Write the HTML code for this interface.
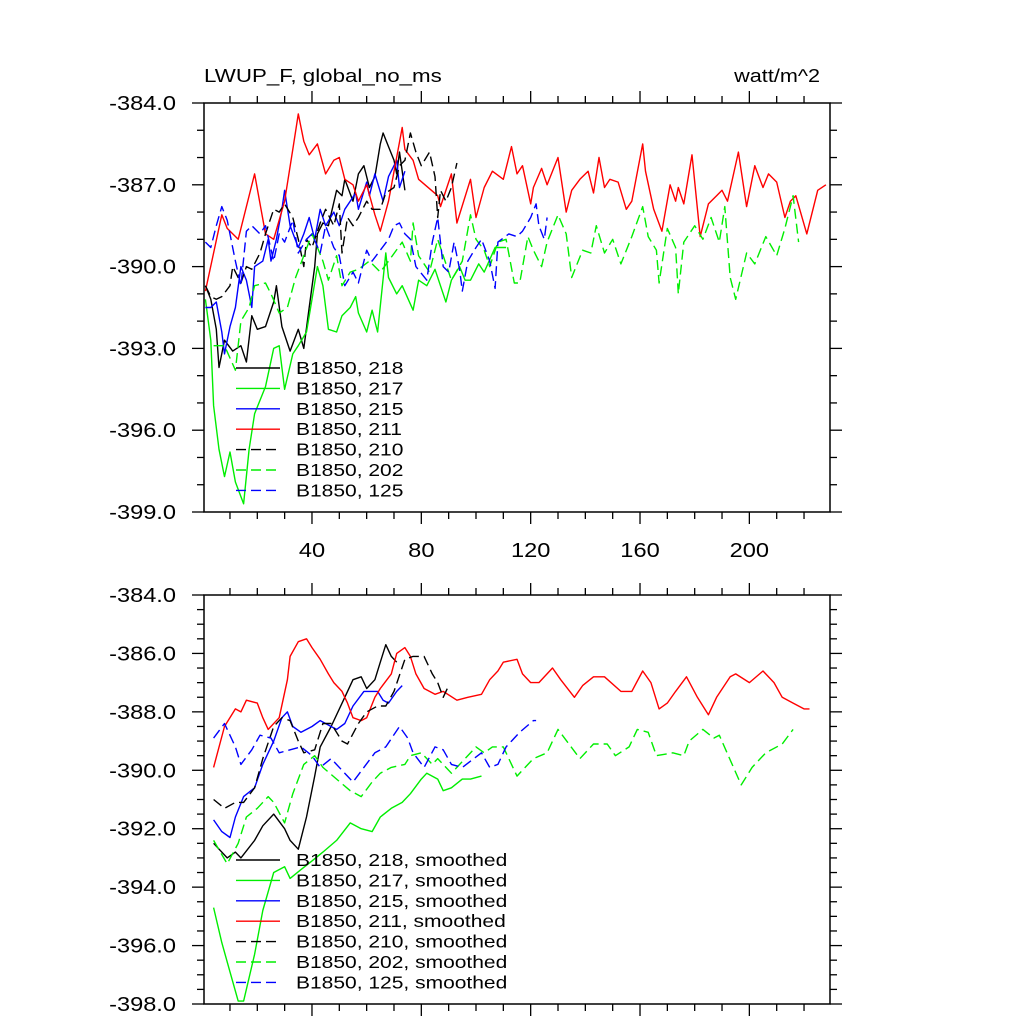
<!DOCTYPE html>
<html><head><meta charset="utf-8"><style>
html,body{margin:0;padding:0;background:#fff}
svg{display:block}
text{font-family:"Liberation Sans",sans-serif;fill:#000}
</style></head><body>
<svg id="chart" width="1024" height="1024" viewBox="0 0 1024 1024" xmlns="http://www.w3.org/2000/svg">
<text id="ttl" x="204" y="82" font-size="18">LWUP_F, global_no_ms</text>
<text id="unt" x="820" y="82" font-size="18" text-anchor="end">watt/m^2</text>
<g id="top"></g>
<g id="bot"></g>
</svg>
<script>
// ---------- data: top panel (raw) ----------
const t218x=[1,3,5,6,8,11,14,16,18,20,23,26,27,29,32,35,37,39,41,42,44,46,49,51,52,55,57,59,61,63,65,66,68,70,71,72,74];
const t218y=[-390.7,-391.2,-392.3,-393.7,-392.7,-393.1,-392.9,-393.5,-391.8,-392.3,-392.2,-391.3,-390.7,-392.2,-393.1,-392.3,-393.0,-391.5,-390.0,-388.8,-388.4,-388.5,-387.2,-387.4,-386.8,-387.6,-386.6,-386.3,-387.1,-386.7,-385.5,-385.1,-385.6,-386.1,-386.6,-385.8,-387.2];
const t217x=[1,3,4,6,8,10,12,15,17,19,23,26,28,30,33,35,38,40,42,44,46,49,51,54,56,57,60,62,64,67,68,71,73,77,79,82,85,89,91,94,96,98,101,103,107,111];
const t217y=[-391.2,-392.7,-395.1,-396.7,-397.7,-396.8,-397.9,-398.7,-396.7,-395.4,-394.4,-393.0,-392.9,-394.5,-393.2,-392.9,-392.4,-391.2,-390.0,-390.7,-392.3,-392.4,-391.8,-391.5,-391.1,-391.7,-392.4,-391.6,-392.4,-389.5,-390.4,-391.0,-390.7,-391.6,-390.5,-390.7,-390.1,-391.3,-390.5,-390.0,-390.5,-390.5,-389.9,-390.2,-389.3,-389.3];
const t215x=[1,3,5,7,8,10,12,14,16,18,19,22,24,25,27,29,30,32,35,37,39,41,43,45,48,50,52,56,57,60,61,63,66,68,71,72,74];
const t215y=[-391.5,-391.5,-391.3,-392.4,-393.2,-392.2,-391.5,-390.0,-390.5,-391.5,-390.0,-389.8,-389.0,-389.8,-389.0,-387.9,-387.2,-388.5,-389.3,-388.8,-388.2,-389.0,-387.9,-388.5,-388.0,-388.5,-387.9,-387.3,-387.9,-386.9,-387.4,-386.6,-387.6,-386.7,-386.1,-387.1,-386.5];
const t211x=[1,7,9,13,19,23,26,30,33,35,37,39,42,45,48,50,52,55,57,60,63,65,68,73,74,77,79,86,87,91,93,98,100,103,106,110,113,115,117,120,121,124,126,130,133,135,138,141,143,145,147,149,152,155,157,161,162,165,168,171,173,174,176,179,182,185,188,190,192,196,199,202,205,207,210,213,215,217,221,225,228];
const t211y=[-390.9,-388.1,-388.6,-389.0,-386.6,-388.8,-389.0,-387.6,-385.7,-384.4,-385.4,-385.9,-385.5,-386.6,-386.1,-386.0,-386.8,-387.0,-387.6,-387.0,-388.1,-388.7,-387.6,-384.9,-385.7,-386.1,-386.8,-387.4,-387.8,-386.6,-388.4,-386.8,-388.2,-387.1,-386.5,-386.8,-385.6,-386.6,-386.3,-387.7,-387.1,-386.4,-387.0,-386.0,-388.0,-387.2,-386.8,-386.5,-387.3,-386.0,-387.1,-386.8,-386.9,-387.9,-387.6,-385.5,-386.5,-387.9,-388.7,-387.0,-387.6,-387.1,-387.7,-385.9,-388.9,-387.7,-387.4,-387.2,-387.6,-385.8,-387.8,-386.3,-387.1,-386.6,-386.9,-388.2,-387.6,-387.4,-388.8,-387.2,-387.0];
const t210x=[1,3,5,7,10,11,14,16,18,21,23,26,28,30,33,35,37,38,40,43,45,48,50,51,53,55,57,60,62,65,67,70,72,74,76,78,80,83,85,86,87,89,91,93];
const t210y=[-390.7,-391.1,-391.2,-391.1,-390.7,-390.0,-390.6,-390.0,-390.1,-389.5,-388.8,-387.9,-388.0,-387.7,-388.2,-389.0,-390.0,-389.0,-389.3,-388.4,-387.9,-388.5,-387.7,-389.5,-388.2,-388.5,-388.2,-387.6,-387.9,-387.9,-387.3,-387.1,-386.3,-386.1,-385.1,-385.8,-386.3,-385.8,-386.7,-388.2,-387.2,-387.6,-387.1,-386.2];
const t202x=[4,8,12,14,17,19,23,25,28,31,34,37,40,44,46,49,51,54,57,61,65,68,73,76,77,79,83,86,91,95,98,100,103,105,108,111,114,116,119,121,124,126,130,133,135,139,142,144,147,150,153,157,161,163,166,167,170,173,174,176,180,183,186,189,191,193,195,199,202,206,210,213,216,218];
const t202y=[-392.9,-392.9,-393.8,-392.0,-391.5,-390.7,-390.6,-391.0,-391.7,-391.5,-390.4,-389.6,-388.8,-389.8,-390.5,-389.6,-390.7,-390.2,-390.1,-389.8,-390.2,-389.8,-389.1,-389.8,-388.4,-389.6,-390.2,-389.0,-390.5,-389.8,-388.1,-389.0,-389.4,-390.0,-389.1,-389.0,-390.6,-390.6,-388.9,-389.4,-390.0,-389.1,-388.1,-388.8,-390.4,-389.4,-389.5,-388.5,-389.5,-389.0,-389.9,-388.9,-387.8,-388.9,-389.4,-390.6,-388.6,-389.3,-391.0,-389.1,-388.5,-389.0,-388.2,-389.1,-387.8,-390.4,-391.2,-389.5,-389.9,-388.9,-389.6,-388.6,-387.4,-389.1];
const t125x=[1,3,5,7,9,12,14,16,18,21,23,26,28,30,33,35,38,40,43,45,48,50,52,55,57,60,62,65,68,70,72,74,76,78,82,84,86,88,90,92,94,95,97,100,102,105,107,108,112,115,117,120,122,123,125,126];
const t125y=[-389.1,-389.3,-388.5,-387.8,-388.3,-389.8,-390.7,-388.7,-388.5,-388.8,-388.5,-389.8,-388.8,-389.1,-388.3,-389.5,-389.0,-388.8,-389.5,-388.5,-389.3,-389.6,-390.7,-390.2,-390.6,-389.4,-389.8,-389.4,-389.0,-388.5,-388.4,-388.8,-389.0,-390.0,-390.5,-389.1,-388.2,-390.0,-390.2,-389.1,-390.1,-390.9,-389.8,-389.3,-389.0,-389.8,-390.8,-389.1,-388.8,-388.9,-388.7,-388.2,-387.7,-388.5,-389.0,-388.2];
// ---------- data: bottom panel (smoothed) ----------
const b218x=[4,9,12,14,19,22,26,30,32,35,38,41,43,47,52,55,58,60,63,65,67,69,71];
const b218y=[-392.5,-393.0,-392.8,-393.0,-392.4,-391.9,-391.5,-392.0,-392.4,-392.7,-391.6,-390.2,-389.2,-388.5,-387.5,-386.9,-386.8,-387.2,-386.9,-386.3,-385.7,-386.1,-386.3];
const b217x=[4,7,10,13,15,19,22,26,30,32,36,40,44,49,54,58,62,65,69,73,76,80,82,86,88,91,95,98,102];
const b217y=[-394.7,-395.9,-396.9,-397.9,-397.9,-396.3,-394.8,-393.5,-393.3,-393.7,-393.4,-393.1,-392.8,-392.4,-391.8,-392.0,-392.1,-391.6,-391.3,-391.1,-390.8,-390.3,-390.1,-390.3,-390.7,-390.6,-390.3,-390.3,-390.2];
const b215x=[4,7,10,12,15,19,22,26,29,31,33,36,40,43,47,49,52,55,59,64,66,68,71,73];
const b215y=[-391.7,-392.1,-392.3,-391.6,-390.9,-390.6,-389.8,-389.0,-388.2,-388.0,-388.5,-388.7,-388.5,-388.3,-388.5,-388.6,-388.4,-387.8,-387.3,-387.3,-387.6,-387.7,-387.3,-387.1];
const b211x=[4,8,12,14,16,20,22,24,28,31,32,35,38,40,43,46,48,51,53,55,58,60,63,65,69,71,74,76,78,81,85,88,93,97,102,105,108,110,115,117,120,123,128,131,136,139,143,147,153,157,161,164,167,170,173,177,181,185,188,193,195,200,205,209,212,216,220,222];
const b211y=[-389.9,-388.5,-387.9,-388.0,-387.6,-387.7,-388.2,-388.6,-388.2,-386.9,-386.1,-385.6,-385.5,-385.8,-386.2,-386.7,-387.0,-387.3,-387.7,-388.2,-388.3,-388.2,-387.5,-387.2,-386.7,-386.0,-385.8,-386.1,-386.7,-387.2,-387.4,-387.3,-387.6,-387.5,-387.4,-386.9,-386.6,-386.3,-386.2,-386.7,-387.0,-387.0,-386.5,-386.9,-387.5,-387.1,-386.8,-386.8,-387.3,-387.3,-386.6,-387.0,-387.9,-387.7,-387.3,-386.8,-387.5,-388.1,-387.5,-386.8,-386.7,-387.0,-386.6,-387.0,-387.5,-387.7,-387.9,-387.9];
const b210x=[4,8,12,15,19,22,26,29,32,35,37,41,44,47,51,53,57,60,64,67,70,74,77,81,84,86,88,90];
const b210y=[-391.0,-391.3,-391.1,-391.1,-390.6,-389.6,-388.5,-388.2,-388.3,-389.0,-389.4,-389.3,-388.4,-388.4,-389.0,-389.1,-388.4,-388.0,-387.8,-387.8,-387.3,-386.2,-386.1,-386.1,-386.7,-387.0,-387.5,-387.1];
const b202x=[4,9,13,16,20,24,26,30,33,37,41,44,49,54,58,62,65,69,74,76,80,84,86,91,96,100,103,106,110,115,121,126,130,138,143,148,151,156,159,163,166,172,176,178,183,187,189,197,201,206,212,216];
const b202y=[-392.4,-393.2,-392.5,-391.6,-391.3,-390.9,-391.1,-391.8,-390.8,-389.8,-389.5,-389.9,-390.3,-390.7,-390.9,-390.4,-390.1,-389.9,-389.8,-389.5,-389.4,-389.8,-389.6,-390.1,-389.6,-389.2,-389.4,-389.2,-389.2,-390.2,-389.6,-389.4,-388.6,-389.6,-389.1,-389.1,-389.5,-389.2,-388.6,-388.7,-389.5,-389.4,-389.5,-389.0,-388.6,-388.9,-388.8,-390.5,-389.9,-389.4,-389.1,-388.6];
const b125x=[4,8,12,14,18,21,25,28,32,36,40,43,47,51,55,59,63,67,72,75,77,81,85,88,91,95,102,105,108,111,113,116,121,122];
const b125y=[-388.9,-388.4,-389.2,-389.8,-389.3,-388.8,-388.9,-389.4,-389.3,-389.2,-389.5,-389.9,-389.6,-390.0,-390.4,-389.9,-389.4,-389.2,-388.5,-388.9,-389.4,-389.9,-389.2,-389.3,-389.8,-389.9,-389.4,-389.9,-389.8,-389.2,-389.0,-388.7,-388.3,-388.3];
// tick labels
const xTickVals=[40,80,120,160,200];
const topYTicks=[-384,-387,-390,-393,-396,-399];
const botYTicks=[-384,-386,-388,-390,-392,-394,-396,-398];
const legendNames=["B1850, 218","B1850, 217","B1850, 215","B1850, 211","B1850, 210","B1850, 202","B1850, 125"];

const NS="http://www.w3.org/2000/svg";
function mk(tag,attrs,parent){const e=document.createElementNS(NS,tag);for(const k in attrs)e.setAttribute(k,attrs[k]);parent.appendChild(e);return e;}
function stretch(t,f){const w=t.getComputedTextLength();t.setAttribute("textLength",(w*f).toFixed(1));t.setAttribute("lengthAdjust","spacingAndGlyphs");}
stretch(document.getElementById("ttl"),1.24);
stretch(document.getElementById("unt"),1.2);
const L=204,R=830,XMIN=0.5,XMAX=229.5;
function sx(v){return L+(v-XMIN)/(XMAX-XMIN)*(R-L);}

function panel(g,T,B,ymax,ymin,yTicks,yMinorStep,series,legendY,suffix,showX){
  const sy=v=>T+(ymax-v)/(ymax-ymin)*(B-T);
  series.forEach((s,i)=>{
    let d="";s.x.forEach((xv,j)=>{d+=(j?"L":"M")+sx(xv).toFixed(1)+","+sy(s.y[j]).toFixed(1);});
    const p=mk("path",{d:d,fill:"none",stroke:s.c,"stroke-width":1.4,"stroke-linejoin":"round"},g);
    if(s.dash)p.setAttribute("stroke-dasharray","10 5");
    
    
  });
  const fr=mk("rect",{x:L,y:T,width:R-L,height:B-T,fill:"none",stroke:"#000","stroke-width":1.5},g);
  
  
  for(let v=ymax;v>=ymin-1e-6;v-=yMinorStep){
    const y=sy(v);const major=yTicks.some(t=>Math.abs(t-v)<1e-6);const len=major?12:7;
    mk("line",{x1:L-len,y1:y,x2:L,y2:y,stroke:"#000","stroke-width":1.3},g);
    mk("line",{x1:R,y1:y,x2:R+len,y2:y,stroke:"#000","stroke-width":1.3},g);
  }
  yTicks.forEach(v=>{
    const t=mk("text",{x:176,y:sy(v)+7,"font-size":20,"text-anchor":"end"},g);
    t.textContent=v.toFixed(1);
    
    
    stretch(t,1.18);
  });
  for(let v=10;v<=XMAX;v+=10){
    const x=sx(v);const major=v%40===0;const len=major?12:7;
    mk("line",{x1:x,y1:T-len,x2:x,y2:T,stroke:"#000","stroke-width":1.3},g);
    mk("line",{x1:x,y1:B,x2:x,y2:B+len,stroke:"#000","stroke-width":1.3},g);
  }
  if(showX)xTickVals.forEach(v=>{
    const t=mk("text",{x:sx(v),y:B+45,"font-size":20,"text-anchor":"middle"},g);
    t.textContent=String(v);
    
    
    stretch(t,1.18);
  });
  series.forEach((s,i)=>{
    const y=legendY+i*20.4;
    const ln=mk("line",{x1:236,y1:y,x2:280,y2:y,stroke:s.c,"stroke-width":1.4},g);
    if(s.dash)ln.setAttribute("stroke-dasharray","10 5");
    
    
    const t=mk("text",{x:296,y:y+6,"font-size":17.5},g);
    t.textContent=legendNames[i]+suffix;
    
    
    stretch(t,1.2);
  });
}
const G="#00ee00";
panel(document.getElementById("top"),103,512,-384,-399,topYTicks,1,[
 {id:"218",x:t218x,y:t218y,c:"#000",dash:false},
 {id:"217",x:t217x,y:t217y,c:G,dash:false},
 {id:"215",x:t215x,y:t215y,c:"#0000ff",dash:false},
 {id:"211",x:t211x,y:t211y,c:"#ff0000",dash:false},
 {id:"210",x:t210x,y:t210y,c:"#000",dash:true},
 {id:"202",x:t202x,y:t202y,c:G,dash:true},
 {id:"125",x:t125x,y:t125y,c:"#0000ff",dash:true}],368,"",true);
panel(document.getElementById("bot"),595,1004,-384,-398,botYTicks,0.5,[
 {id:"218",x:b218x,y:b218y,c:"#000",dash:false},
 {id:"217",x:b217x,y:b217y,c:G,dash:false},
 {id:"215",x:b215x,y:b215y,c:"#0000ff",dash:false},
 {id:"211",x:b211x,y:b211y,c:"#ff0000",dash:false},
 {id:"210",x:b210x,y:b210y,c:"#000",dash:true},
 {id:"202",x:b202x,y:b202y,c:G,dash:true},
 {id:"125",x:b125x,y:b125y,c:"#0000ff",dash:true}],860,", smoothed",false);
</script>
</body></html>
